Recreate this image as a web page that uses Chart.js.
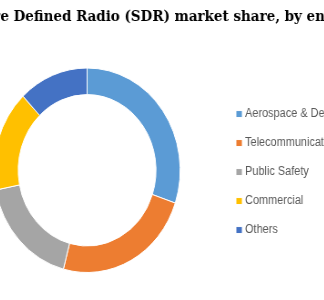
<!DOCTYPE html>
<html>
<head>
<meta charset="utf-8">
<script src="https://cdn.jsdelivr.net/npm/chart.js@4"></script>
<style>
  html, body { margin: 0; padding: 0; background: #fff; }
  #wrap { position: relative; width: 324px; height: 300px; overflow: hidden; }
</style>
</head>
<body>
<div id="wrap">
  <!-- the source picture is squeezed a little horizontally, so the canvas is too (inline style so Chart.js keeps it) -->
  <canvas id="chart" width="446" height="300" style="position:absolute; left:-49px; top:0; width:406px; height:300px;"></canvas>
</div>
<script>
// Data (share of the ring, %)
var titleText = 'Software Defined Radio (SDR) market share, by end-use';
var segments = ['Aerospace & Defense', 'Telecommunications', 'Public Safety', 'Commercial', 'Others'];
var shares = [30.2, 23.9, 17.8, 16.0, 12.1];
var colors = ['#5B9BD5', '#ED7D31', '#A5A5A5', '#FFC000', '#4472C4'];

// The built-in title squeezes text to fit its box; the picture is cropped,
// so the title is drawn here at full width and lets the page edge cut it.
var wideTitle = {
    id: 'wideTitle',
    afterDraw: function (chart) {
        var c = chart.ctx;
        c.save();
        c.font = 'bold 14.8px "DejaVu Serif"';
        c.fillStyle = '#000000';
        c.textAlign = 'center';
        c.textBaseline = 'middle';
        c.fillText(titleText, chart.width / 2, 17);
        c.restore();
    }
};

var ctx = document.getElementById('chart').getContext('2d');
var myChart = new Chart(ctx, {
    type: 'doughnut',
    data: {
        labels: segments,
        datasets: [{
            data: shares,
            backgroundColor: colors,
            borderColor: '#ffffff',
            borderWidth: 1,
            hoverOffset: 0
        }]
    },
    options: {
        responsive: false,
        animation: false,
        cutout: '74%',
        layout: {
            padding: { left: 0, right: 0, top: 67.5, bottom: 27 }
        },
        plugins: {
            legend: {
                position: 'right',
                fullSize: false,
                maxWidth: 147,
                // empty title only nudges the items down a little
                title: { display: true, text: '', font: { size: 3 }, padding: 0 },
                labels: {
                    usePointStyle: true,
                    pointStyle: 'rect',
                    boxWidth: 1,
                    boxHeight: 7,
                    padding: 17,
                    color: '#595959',
                    font: { family: 'Liberation Sans', size: 12 }
                }
            },
            tooltip: { enabled: false }
        }
    },
    plugins: [wideTitle]
});
</script>
</body>
</html>
